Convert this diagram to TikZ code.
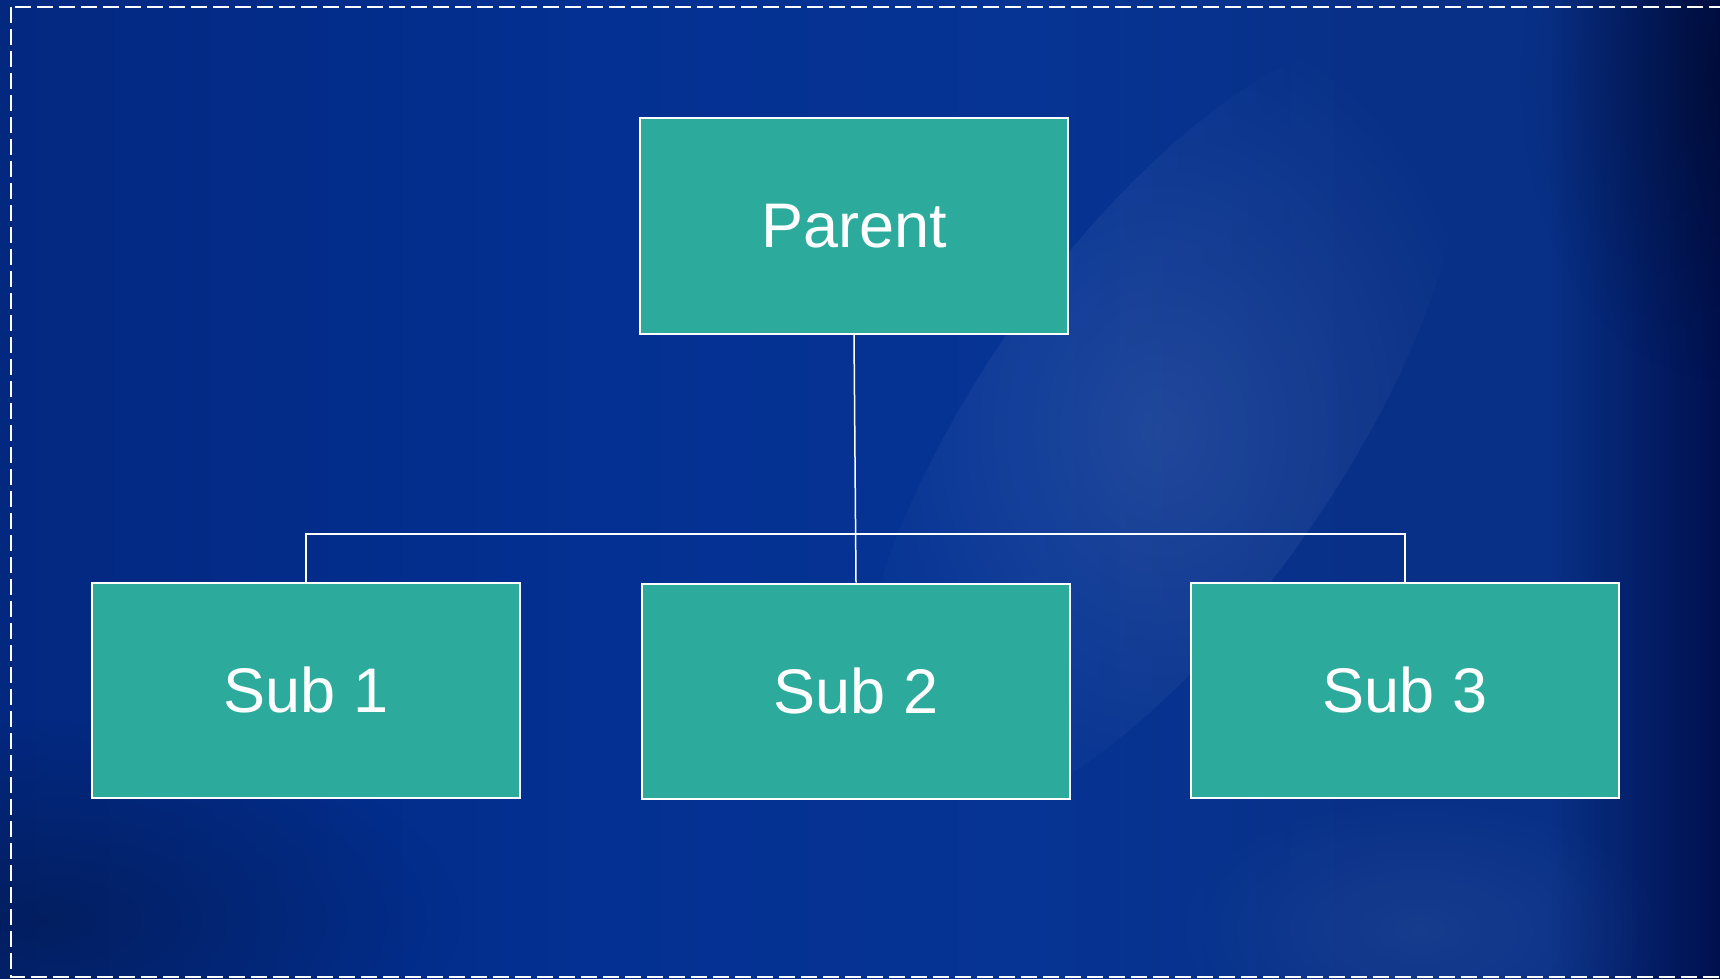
\documentclass[tikz,border=0pt]{standalone}
\usepackage{fontspec}
\setmainfont{Liberation Sans}
\usetikzlibrary{fadings}

\definecolor{boxfill}{RGB}{44,171,156}
\definecolor{bgA}{RGB}{3,40,128}
\definecolor{bgB}{RGB}{3,48,146}
\definecolor{bgC}{RGB}{6,52,148}
\definecolor{bgD}{RGB}{8,48,135}
\definecolor{bgE}{RGB}{0,16,78}

% left-to-right blue backdrop
\pgfdeclarehorizontalshading{backdrop}{100bp}{%
  color(0bp)=(bgA); color(25bp)=(bgA); color(42bp)=(bgB); color(55bp)=(bgC);
  color(65bp)=(bgD); color(70bp)=(bgD); color(75bp)=(bgE); color(100bp)=(bgE)}

% radial soft spot: opaque centre, clear rim
\tikzfading[name=softspot, inner color=transparent!0, outer color=transparent!100]

\tikzset{
  box/.style={draw=white, line width=2pt, fill=boxfill, text=white,
    minimum width=428pt, minimum height=215pt, inner sep=0pt,
    font=\fontsize{63}{76}\selectfont},
  link/.style={draw=white, line width=1.5pt},
  frame/.style={draw=white, line width=1.5pt, dash pattern=on 16pt off 6pt}
}

\begin{document}
\begin{tikzpicture}[x=1pt,y=-1pt]
\useasboundingbox (0,0) rectangle (1720,979);

% background
\shade[shading=backdrop] (0,0) rectangle (1720,979);
\fill[black, fill opacity=0.25, path fading=softspot] (40,920) ellipse [x radius=420, y radius=200];
\fill[white, fill opacity=0.10, path fading=softspot, rotate around={-35:(1160,430)}]
  (1160,430) ellipse [x radius=180, y radius=460];
\fill[white, fill opacity=0.06, path fading=softspot] (1420,930) ellipse [x radius=260, y radius=140];
\fill[black, fill opacity=0.25, path fading=softspot] (1720,80) ellipse [x radius=200, y radius=300];

% dashed frame
\draw[frame] (11,7) rectangle (1735,977);

% boxes
\node[box] (parent) at (854,226) {Parent};
\node[box] (sub1) at (306,690) {Sub 1};
\node[box] (sub2) at (856,691) {Sub 2};
\node[box] (sub3) at (1405,690) {Sub 3};

% connectors
\coordinate (bar) at (0,534);
\draw[link] (parent.south) -- (sub2.north);
\draw[link] (sub1.north) |- (sub3.north |- bar) -- (sub3.north);
\end{tikzpicture}
\end{document}
